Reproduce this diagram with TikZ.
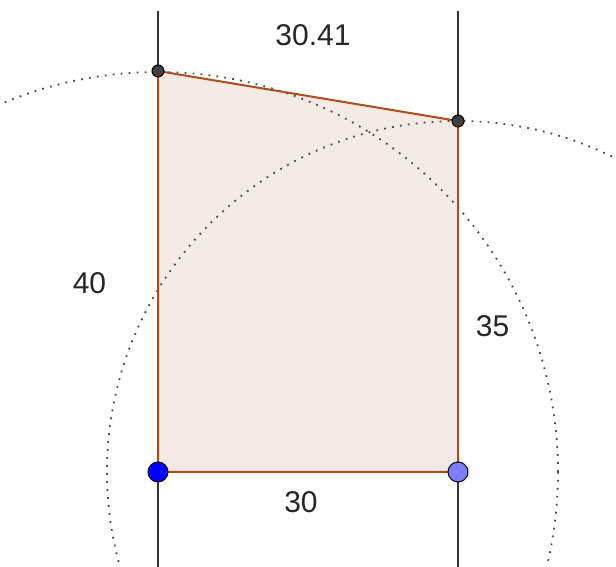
\documentclass[tikz,border=0pt]{standalone}
\usepackage{xcolor}
\usepackage{fontspec}
\setmainfont{Liberation Sans}
\usepackage{tikz}
\usetikzlibrary{positioning,backgrounds}
\definecolor{polybrown}{RGB}{170,78,30}
\definecolor{polyfill}{RGB}{244,234,229}
\definecolor{ptgray}{RGB}{64,64,64}
\definecolor{linegray}{RGB}{55,55,55}
\definecolor{ptblue}{RGB}{0,0,255}
\definecolor{ptlight}{RGB}{125,125,255}

\begin{document}
\begin{tikzpicture}[x=1pt, y=1pt, thick]
  \tikzstyle{pt} = [circle, draw=black, line width=1pt, inner sep=0pt, minimum size=12pt, fill=ptgray]
  \tikzstyle{bigpt} = [pt, minimum size=20pt]
  \tikzstyle{lbl} = [inner sep=0pt, text=black!85, font=\fontsize{30}{36}\selectfont]
  \tikzstyle{dotcircle} = [draw=black!70, line width=1.8pt, dash pattern=on 1.8pt off 6.2pt]

  \useasboundingbox (0,0) rectangle (616,567);

  % points of the quadrilateral
  \node[bigpt, fill=ptblue] (A) at (158,95) {};
  \node[bigpt, fill=ptlight] (B) at (458,95) {};
  \node[pt] (C) at (458,446) {};
  \node[pt] (D) at (158,496) {};

  % ends of the two vertical lines
  \coordinate (topL) at (158,556);
  \coordinate (botL) at (158,0);
  \coordinate (topR) at (458,556);
  \coordinate (botR) at (458,0);

  % side lengths
  \node[lbl] (lenDC) at (313,531.5) {30.41};
  \node[lbl] (lenAD) at (89.5,284) {40};
  \node[lbl] (lenBC) at (492.5,240.5) {35};
  \node[lbl] (lenAB) at (301,65) {30};

  \begin{scope}[on background layer]
    \clip (0,0) rectangle (616,567);
    \fill[polyfill] (A.center) -- (B.center) -- (C.center) -- (D.center) -- cycle;
    \draw[linegray, line width=1.6pt] (topL) -- (botL);
    \draw[linegray, line width=1.6pt] (topR) -- (botR);
    % circles of radius 40 and 35
    \draw[dotcircle] (A.center) circle[radius=400pt];
    \draw[dotcircle] (B.center) circle[radius=351pt];
    \draw[polybrown, line width=2pt] (A.center) -- (B.center) -- (C.center) -- (D.center) -- cycle;
  \end{scope}
\end{tikzpicture}
\end{document}
